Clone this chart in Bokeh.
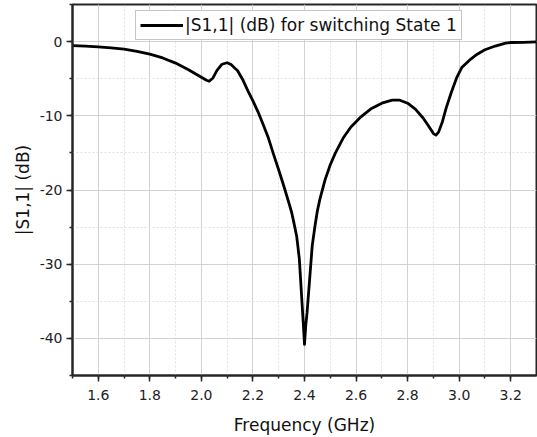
from bokeh.plotting import figure
from bokeh.models import (SingleIntervalTicker, PrintfTickFormatter, Legend,
                          LegendItem, Range1d)
from bokeh.embed import file_html
from bokeh.resources import INLINE

# ---- data ----
freq_ghz = [1.50, 1.55, 1.60, 1.65, 1.70, 1.75, 1.80, 1.85, 1.90, 1.95,
            1.98, 2.00, 2.02, 2.03, 2.045, 2.06, 2.08, 2.10, 2.115, 2.13,
            2.14, 2.16, 2.18, 2.20, 2.22, 2.24, 2.26, 2.28, 2.30, 2.32,
            2.34, 2.35, 2.36, 2.37, 2.38, 2.39, 2.395, 2.40, 2.405, 2.41,
            2.42, 2.43, 2.44, 2.45, 2.46, 2.48, 2.50, 2.52, 2.55, 2.58,
            2.62, 2.66, 2.70, 2.74, 2.77, 2.80, 2.83, 2.86, 2.88, 2.90,
            2.91, 2.92, 2.935, 2.95, 2.97, 2.99, 3.01, 3.04, 3.07, 3.10,
            3.14, 3.18, 3.20, 3.25, 3.30]
s11_db = [-0.55, -0.60, -0.70, -0.85, -1.00, -1.32, -1.70, -2.20, -2.90, -3.80,
          -4.40, -4.80, -5.20, -5.35, -4.90, -3.90, -3.05, -2.85, -3.10, -3.60,
          -3.90, -5.10, -6.60, -8.00, -9.50, -11.20, -13.00, -15.20, -17.30, -19.50,
          -21.80, -23.00, -24.60, -26.30, -29.30, -35.00, -37.80, -40.80, -38.20, -36.50,
          -32.00, -27.50, -25.00, -22.80, -21.20, -18.60, -16.60, -15.00, -13.00, -11.50,
          -10.10, -9.00, -8.30, -7.90, -7.90, -8.30, -9.10, -10.30, -11.30, -12.40,
          -12.60, -12.20, -10.80, -8.90, -6.80, -4.90, -3.50, -2.50, -1.70, -1.10,
          -0.60, -0.20, -0.12, -0.10, -0.05]

x_label = "Frequency (GHz)"
y_label = "|S1,1| (dB)"
series_label = "|S1,1| (dB) for switching State 1"

FONT = "DejaVu Sans"
AXC = "#262626"

p = figure(width=537, height=437, output_backend="svg", toolbar_location=None,
           x_range=Range1d(1.5, 3.3), y_range=Range1d(-45, 5),
           min_border_left=72, min_border_right=1, min_border_top=4,
           min_border_bottom=60)
p.background_fill_color = "white"
p.border_fill_color = "white"
p.outline_line_color = AXC
p.outline_line_width = 2
p.outline_line_alpha = 1

r = p.line(freq_ghz, s11_db, line_color="black", line_width=2.8,
           line_join="round")

p.xaxis.ticker = SingleIntervalTicker(interval=0.2, num_minor_ticks=2)
p.yaxis.ticker = SingleIntervalTicker(interval=10, num_minor_ticks=2)
p.xaxis.formatter = PrintfTickFormatter(format="%.1f")
p.yaxis.formatter = PrintfTickFormatter(format="%d")
p.xaxis.axis_label = x_label
p.yaxis.axis_label = y_label

for ax in (p.xaxis, p.yaxis):
    ax.axis_line_color = AXC
    ax.axis_line_width = 2
    ax.major_tick_line_color = AXC
    ax.major_tick_line_width = 1.5
    ax.minor_tick_line_color = AXC
    ax.minor_tick_line_width = 1.5
    ax.major_tick_out = 6
    ax.major_tick_in = 0
    ax.minor_tick_out = 3
    ax.minor_tick_in = 0
    ax.major_label_text_font = FONT
    ax.major_label_text_font_size = "14px"
    ax.major_label_text_color = "#222222"
    ax.axis_label_text_font = FONT
    ax.axis_label_text_font_size = "17px"
    ax.axis_label_text_font_style = "normal"
    ax.axis_label_text_color = "#111111"

p.xaxis.major_label_standoff = 8
p.xaxis.axis_label_standoff = 12
p.yaxis.major_label_standoff = 4
p.yaxis.axis_label_standoff = 4

for g in (p.xgrid, p.ygrid):
    g.grid_line_color = "#d2d2d2"
    g.grid_line_width = 1
    g.minor_grid_line_color = "#e0e0e0"
    g.minor_grid_line_width = 1
    g.minor_grid_line_dash = "2 2"

legend = Legend(items=[LegendItem(label=series_label, renderers=[r])],
                location=(63, 335))
legend.label_text_font = FONT
legend.label_text_font_size = "17px"
legend.label_text_color = "#111111"
legend.glyph_width = 43
legend.glyph_height = 20
legend.label_height = 20
legend.label_standoff = 2
legend.padding = 4
legend.margin = 0
legend.spacing = 0
legend.border_line_color = "#8a8a8a"
legend.border_line_width = 1
legend.background_fill_color = "white"
legend.background_fill_alpha = 1
p.add_layout(legend)

open("out.html", "w").write(file_html(p, INLINE))
